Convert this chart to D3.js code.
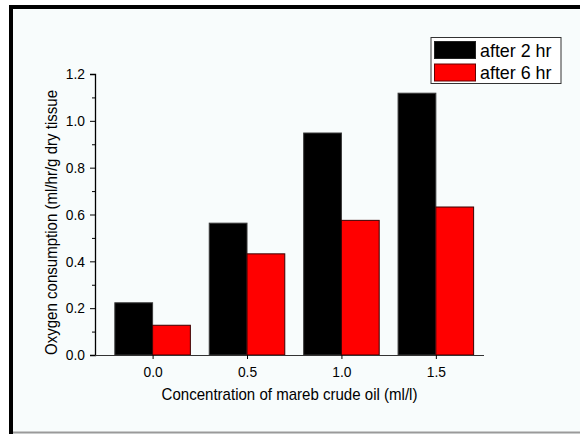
<!DOCTYPE html>
<html>
<head>
<meta charset="utf-8">
<script src="https://cdn.jsdelivr.net/npm/d3@7/dist/d3.min.js"></script>
<style>
  html, body { margin: 0; padding: 0; background: #ffffff; }
  svg { display: block; }
  text { font-family: "Liberation Sans", Arial, sans-serif; fill: #000; }
</style>
</head>
<body>
<svg id="chart" width="580" height="434"></svg>
<script>
// ---- Data ----
const categories = [0.0, 0.5, 1.0, 1.5];
const categoryLabels = ["0.0", "0.5", "1.0", "1.5"];
const after2hr = [0.223, 0.563, 0.948, 1.118];
const after6hr = [0.127, 0.432, 0.575, 0.632];
const seriesNames = ["after 2 hr", "after 6 hr"];
const seriesColors = ["#000000", "#ff0000"];
const yTicks = [0.0, 0.2, 0.4, 0.6, 0.8, 1.0, 1.2];
const yMinorTicks = [0.1, 0.3, 0.5, 0.7, 0.9, 1.1];
const xTitle = "Concentration of mareb crude oil (ml/l)";
const yTitle = "Oxygen consumption (ml/hr/g dry tissue";

const svg = d3.select("#chart");

// ---- Frame / background ----
svg.append("rect").attr("x", 9).attr("y", 5).attr("width", 571).attr("height", 429).attr("fill", "#000");
svg.append("rect").attr("x", 13).attr("y", 9).attr("width", 567).attr("height", 425).attr("fill", "#f8fcfc");
svg.append("line").attr("x1", 13).attr("x2", 580).attr("y1", 432.5).attr("y2", 432.5)
  .attr("stroke", "#9a9a9a").attr("stroke-width", 2);

// ---- Scales ----
const x = d3.scaleLinear().domain([-0.305, 1.755]).range([95, 484]);
const y = d3.scaleLinear().domain([0, 1.2]).range([355, 74]);
const barW = 0.2;

const series = [after2hr, after6hr];
const g = svg.append("g");

// Bars
series.forEach((vals, si) => {
  g.selectAll(null).data(categories).enter().append("rect")
    .attr("x", (c) => x(si === 0 ? c - barW : c))
    .attr("width", (c) => x(c + barW) - x(c))
    .attr("y", (c, i) => y(vals[i]))
    .attr("height", (c, i) => y(0) - y(vals[i]))
    .attr("fill", seriesColors[si])
    .attr("stroke", si === 0 ? "#3a3a3a" : "#3a0000")
    .attr("stroke-width", 1);
});

// ---- Axes ----
const yAxis = d3.axisLeft(y).tickValues(yTicks).tickFormat(d3.format(".1f")).tickSize(5).tickPadding(5);
const yAx = svg.append("g").attr("transform", "translate(95,0)").call(yAxis);
yAx.attr("font-size", 15).attr("font-family", "Liberation Sans, Arial, sans-serif");
yAx.select(".domain").attr("stroke", "#000").attr("stroke-width", 1.3);
yAx.selectAll(".tick line").attr("stroke", "#000");
yAx.selectAll(".tick text").attr("fill", "#000");

const yMinor = d3.axisLeft(y).tickValues(yMinorTicks).tickFormat("").tickSize(3);
const yMn = svg.append("g").attr("transform", "translate(95,0)").call(yMinor);
yMn.select(".domain").remove();
yMn.selectAll(".tick line").attr("stroke", "#000");
yMn.selectAll(".tick text").remove();

const xAxis = d3.axisBottom(x).tickValues(categories).tickFormat((d, i) => categoryLabels[i]).tickSize(4).tickPadding(7);
const xAx = svg.append("g").attr("transform", "translate(0,355)").call(xAxis);
xAx.attr("font-size", 15).attr("font-family", "Liberation Sans, Arial, sans-serif");
xAx.select(".domain").attr("d", `M${x.range()[0]},0.5H${x.range()[1]}`).attr("stroke", "#333").attr("stroke-width", 1.2);
xAx.selectAll(".tick line").attr("stroke", "#000");
xAx.selectAll(".tick text").attr("fill", "#000");

// Titles
svg.append("text").attr("class", "cond")
  .attr("x", (x.range()[0] + x.range()[1]) / 2).attr("y", 400)
  .attr("text-anchor", "middle").style("font-size", "17px").text(xTitle);

svg.append("text").attr("class", "cond")
  .attr("transform", "translate(57,222.5) rotate(-90)")
  .attr("text-anchor", "middle").style("font-size", "17px").text(yTitle);

// ---- Legend ----
const leg = svg.append("g");
leg.append("rect").attr("x", 431).attr("y", 37.5).attr("width", 130).attr("height", 46)
  .attr("fill", "#ffffff").attr("stroke", "#333").attr("stroke-width", 1);
seriesNames.forEach((name, i) => {
  const yy = 41.5 + i * 22.5;
  leg.append("rect").attr("x", 434.5).attr("y", yy).attr("width", 41).attr("height", 17)
    .attr("fill", seriesColors[i]).attr("stroke", i === 0 ? "#222" : "#660000").attr("stroke-width", 1);
  leg.append("text").attr("class", "cond-leg")
    .attr("x", 480).attr("y", yy + 15).style("font-size", "19px").text(name);
});

// Condense text horizontally to match the narrow look
function condense(sel, ratio) {
  sel.each(function () {
    const w = this.getComputedTextLength();
    this.setAttribute("textLength", (w * ratio).toFixed(1));
    this.setAttribute("lengthAdjust", "spacingAndGlyphs");
  });
}
condense(svg.selectAll("text.cond"), 0.885);
condense(svg.selectAll(".tick text"), 0.92);
condense(svg.selectAll("text.cond-leg"), 0.94);
</script>
</body>
</html>
